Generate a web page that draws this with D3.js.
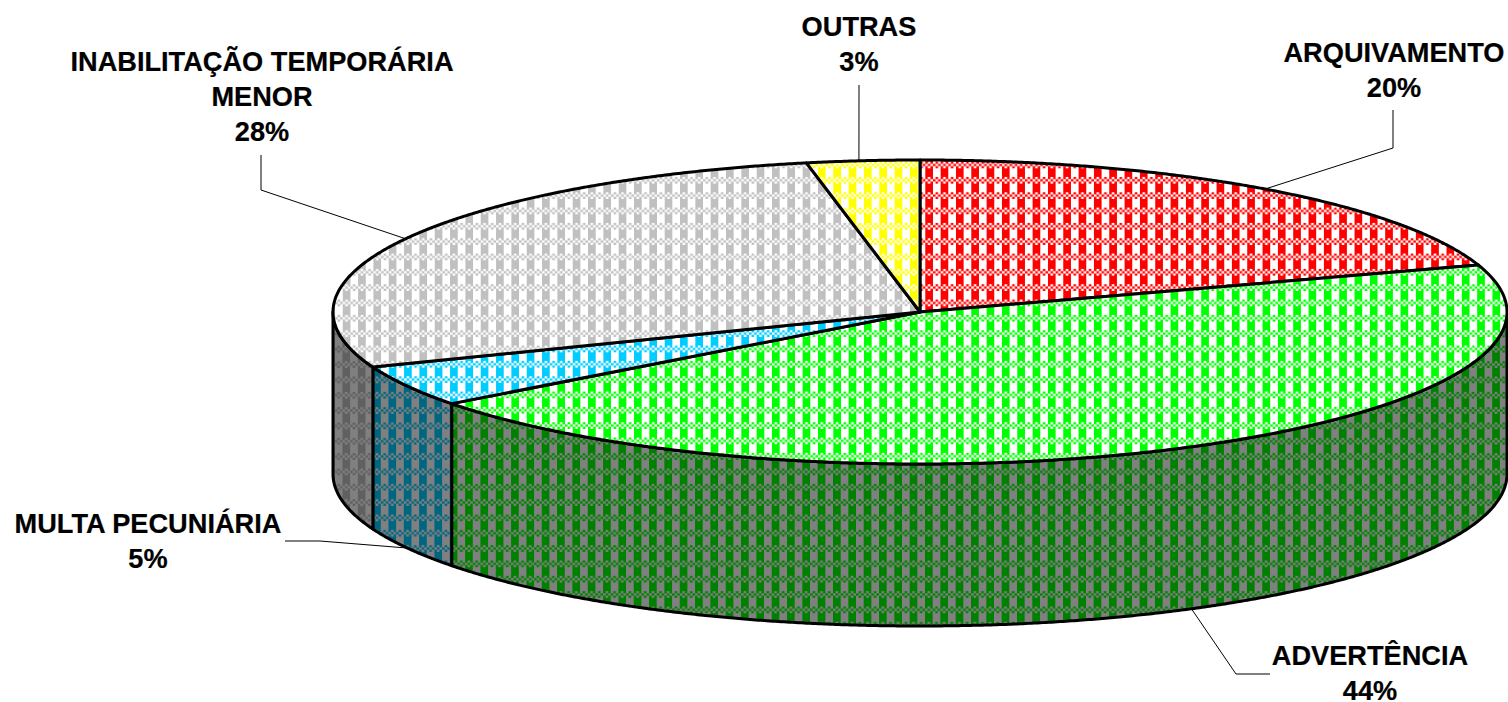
<!DOCTYPE html>
<html><head><meta charset="utf-8">
<script src="https://cdn.jsdelivr.net/npm/d3@7"></script>
<style>html,body{margin:0;padding:0;background:#fff;overflow:hidden}svg{display:block}</style>
</head><body><svg id="c" width="1508" height="702"></svg>
<script>
const categories = ["ARQUIVAMENTO","ADVERTÊNCIA","MULTA PECUNIÁRIA","INABILITAÇÃO TEMPORÁRIA MENOR","OUTRAS"];
const labelLines = [["ARQUIVAMENTO"],["ADVERTÊNCIA"],["MULTA PECUNIÁRIA"],["INABILITAÇÃO TEMPORÁRIA","MENOR"],["OUTRAS"]];
const percentLabels = ["20%","44%","5%","28%","3%"];
const values = [20.0,44.7,4.4,27.8,3.1];
const topColors = ["#ff0000","#00ff00","#00ccff","#c0c0c0","#ffff00"];
const wallColors = ["#800000","#008000","#006680","#606060","#808000"];
// layout
const labelX = [1394,1370,148,262,859], labelY = [62,664.5,533,71,36];
const elbows = [[[1393,148],[1393,110]],[[1236,674],[1270,674]],[[320,541],[285,541]],[[261,190],[261,155]],[[859,85]]];
const anchorNudge = [0,0,0,0,-4];
const W=1508,H=702, depth=162, tile=15.33;
const sx=d3.scaleLinear().domain([-1,1]).range([333,1507]);
const sy=d3.scaleLinear().domain([-1,1]).range([160,464]);
const px=a=>sx(Math.sin(a)), py=a=>sy(-Math.cos(a));
const arcs=d3.pie().sort(null)(values);
const line=d3.line();
const svg=d3.select("#c");
const defs=svg.append("defs");
function pat(id,color,bg,ox,oy){
  const p=defs.append("pattern").attr("id",id).attr("patternUnits","userSpaceOnUse")
    .attr("width",tile).attr("height",tile).attr("patternTransform",`translate(${ox},${oy})`);
  p.append("rect").attr("width",tile).attr("height",tile).attr("fill",bg);
  const c=tile/8, blockH=8.6, rowH=(tile-blockH)/3;
  p.append("rect").attr("x",0).attr("y",0).attr("width",4*c).attr("height",blockH).attr("fill",color);
  d3.range(6).forEach(i=>d3.range(3).forEach(j=>{
    if((i+j)%2===0) p.append("rect").attr("x",i*tile/6).attr("y",blockH+j*rowH).attr("width",tile/6).attr("height",rowH).attr("fill",color);
  }));
}
topColors.forEach((c,i)=>pat("t"+i,c,"#ffffff",5.5,-0.3));
wallColors.forEach((c,i)=>pat("w"+i,c,"#808080",5.2,0));
const samples=(a0,a1)=>{const n=Math.max(2,Math.ceil((a1-a0)/0.005));return d3.range(n+1).map(k=>a0+(a1-a0)*k/n);};
const g=svg.append("g").attr("fill","none").attr("stroke","#000").attr("stroke-linejoin","round");
// side walls
const walls=arcs.map((d,i)=>({i,a0:Math.max(d.startAngle,Math.PI/2),a1:Math.min(d.endAngle,Math.PI*3/2)})).filter(d=>d.a1>d.a0);
const wallPath=d=>{
  const s=samples(d.a0,d.a1);
  return line(s.map(a=>[px(a),py(a)]).concat(s.slice().reverse().map(a=>[px(a),py(a)+depth])))+"Z";
};
g.selectAll(".wall").data(walls).join("path").attr("class","wall")
  .attr("d",wallPath).attr("fill",d=>`url(#w${d.i})`).attr("stroke-width",3);
// top face
g.selectAll(".top").data(arcs).join("path").attr("class","top")
  .attr("d",d=>line([[sx(0),sy(0)]].concat(samples(d.startAngle,d.endAngle).map(a=>[px(a),py(a)])))+"Z")
  .attr("fill",(d,i)=>`url(#t${i})`).attr("stroke-width",3);
// leaders
const lead=svg.append("g").attr("fill","none").attr("stroke","#000").attr("stroke-width",1);
arcs.forEach((d,i)=>{
  const m=(d.startAngle+d.endAngle)/2;
  const front=Math.cos(m)<0;
  const start=[px(m)+anchorNudge[i],py(m)+(front?depth:0)];
  lead.append("path").attr("d",line([start].concat(elbows[i])));
});
// labels
const tg=svg.append("g").attr("font-family","'Liberation Sans',Arial,sans-serif").attr("font-weight","bold")
  .attr("font-size",27.2).attr("text-anchor","middle").attr("fill","#000")
  .attr("stroke","#000").attr("stroke-width",0.2);
arcs.forEach((d,i)=>{
  const rows=labelLines[i].concat([percentLabels[i]]);
  rows.forEach((r,k)=>tg.append("text").attr("x",labelX[i]).attr("y",labelY[i]+k*35).text(r));
});
</script></body></html>
